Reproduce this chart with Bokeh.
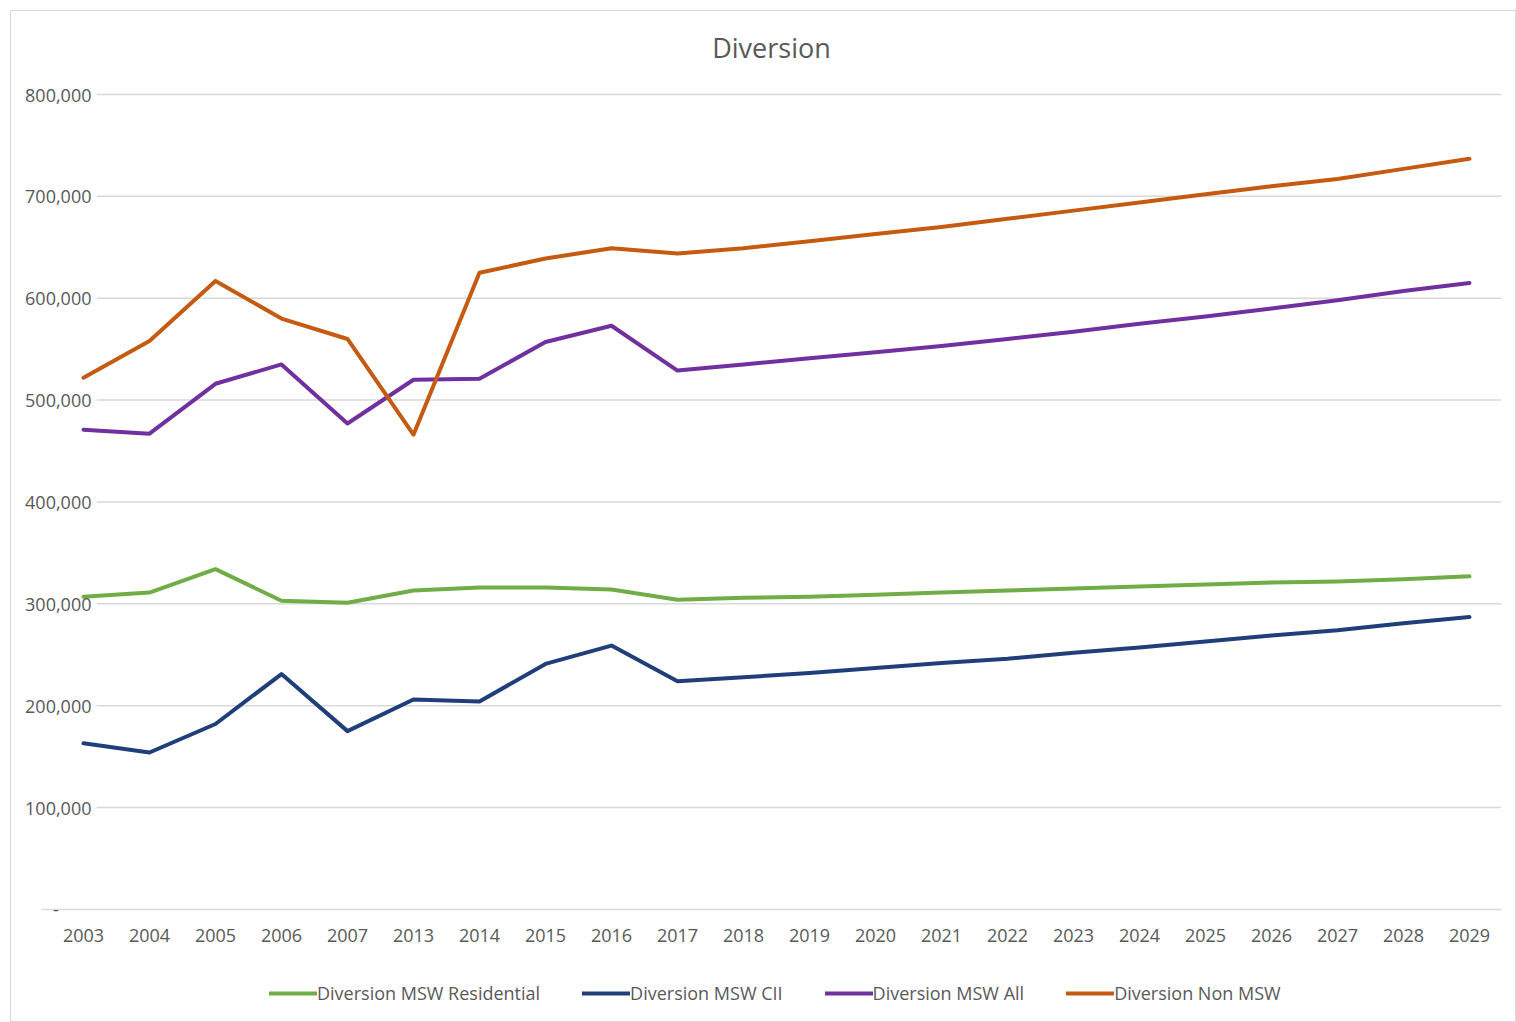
from bokeh.plotting import figure
from bokeh.models import Legend, LegendItem, FixedTicker, Range1d, ColumnDataSource
from bokeh.embed import file_html
from bokeh.resources import INLINE

years = ["2003", "2004", "2005", "2006", "2007", "2013", "2014", "2015", "2016", "2017",
         "2018", "2019", "2020", "2021", "2022", "2023", "2024", "2025", "2026", "2027",
         "2028", "2029"]

msw_residential = [307000, 311000, 334000, 303000, 301000, 313000, 316000, 316000, 314000, 304000,
                   306000, 307000, 309000, 311000, 313000, 315000, 317000, 319000, 321000, 322000,
                   324000, 327000]
msw_cii = [163000, 154000, 182000, 231000, 175000, 206000, 204000, 241000, 259000, 224000,
           228000, 232000, 237000, 242000, 246000, 252000, 257000, 263000, 269000, 274000,
           281000, 287000]
msw_all = [471000, 467000, 516000, 535000, 477000, 520000, 521000, 557000, 573000, 529000,
           535000, 541000, 547000, 553000, 560000, 567000, 575000, 582000, 590000, 598000,
           607000, 615000]
non_msw = [522000, 558000, 617000, 580000, 560000, 466000, 625000, 639000, 649000, 644000,
           649000, 656000, 663000, 670000, 678000, 686000, 694000, 702000, 710000, 717000,
           727000, 737000]

series_names = ["Diversion MSW Residential", "Diversion MSW CII", "Diversion MSW All", "Diversion Non MSW"]
series_values = [msw_residential, msw_cii, msw_all, non_msw]
series_colors = ["#70AD47", "#203F7A", "#7030A0", "#C55A11"]

y_ticks = [0, 100000, 200000, 300000, 400000, 500000, 600000, 700000, 800000]

xs = list(range(len(years)))
n = len(years)

# frame spans page y 82..1016; value 0 sits at page y 909 (101.75 px per 100,000)
px_per_unit = 101.75 / 100000
y_start = -(1016 - 909) / px_per_unit
y_end = 800000 + (95 - 82) / px_per_unit

p = figure(width=1506, height=1012, output_backend="svg", toolbar_location=None,
           x_range=Range1d(-0.636, n - 1 + 0.485), y_range=Range1d(y_start, y_end),
           min_border_left=30, min_border_right=16, min_border_top=70, min_border_bottom=7)
p.margin = (10, 0, 0, 10)
p.styles = {"border": "1px solid #d9d9d9", "box-sizing": "border-box"}

p.title.text = "Diversion"
p.title.align = "center"
p.title.text_font = "Open Sans"
p.title.text_font_size = "27px"
p.title.text_font_style = "normal"
p.title.text_color = "#595959"
p.title.offset = 0
p.title.standoff = 31

p.outline_line_color = None
p.background_fill_color = "white"
p.border_fill_color = "white"
p.xgrid.visible = False
p.ygrid.visible = False

# horizontal gridlines that start after the tick labels, like the original
grid_src = ColumnDataSource(dict(y=y_ticks[1:]))
p.segment(x0=0.2, x1=n - 1 + 0.485, y0="y", y1="y", source=grid_src,
          line_color="#d9d9d9", line_width=1.5)

renderers = []
for name, vals, col in zip(series_names, series_values, series_colors):
    r = p.line(xs, vals, line_color=col, line_width=4, line_join="round", line_cap="round")
    renderers.append((name, r))

# x axis placed at value 0 inside the frame
p.xaxis.fixed_location = 0
p.xaxis.ticker = FixedTicker(ticks=xs)
p.xaxis.major_label_overrides = {i: y for i, y in enumerate(years)}
p.xaxis.axis_line_color = "#d9d9d9"
p.xaxis.axis_line_width = 1.5
p.xaxis.major_tick_line_color = None
p.xaxis.minor_tick_line_color = None
p.xaxis.major_label_text_font = "Open Sans"
p.xaxis.major_label_text_font_size = "18px"
p.xaxis.major_label_text_color = "#595959"
p.xaxis.major_label_standoff = 14

# y axis with labels drawn over the left part of the frame
p.yaxis.ticker = FixedTicker(ticks=y_ticks)
p.yaxis.major_label_overrides = {t: ("-" + "\u00a0" * 7 if t == 0 else f"{t:,}") for t in y_ticks}
p.yaxis.axis_line_color = None
p.yaxis.major_tick_line_color = None
p.yaxis.minor_tick_line_color = None
p.yaxis.major_label_text_font = "Open Sans"
p.yaxis.major_label_text_font_size = "18px"
p.yaxis.major_label_text_color = "#595959"
p.yaxis.major_label_standoff = -56

legend = Legend(items=[LegendItem(label=nm, renderers=[r]) for nm, r in renderers],
                orientation="horizontal", location=(228, 11),
                glyph_width=48, glyph_height=20, label_standoff=0, spacing=42,
                padding=0, margin=0, border_line_color=None, background_fill_alpha=0,
                label_text_font="Open Sans", label_text_font_size="18px",
                label_text_color="#595959")
p.add_layout(legend, "center")

open("out.html", "w").write(file_html(p, INLINE))
